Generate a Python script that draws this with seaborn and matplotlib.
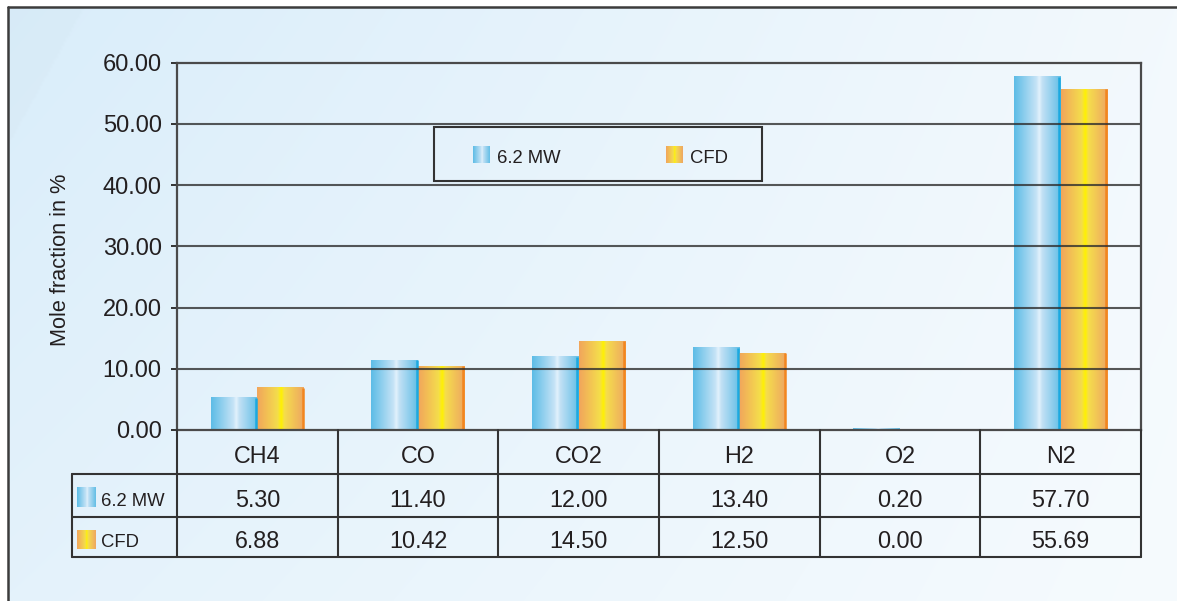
import numpy as np
import pandas as pd
import matplotlib
matplotlib.use("Agg")
import matplotlib.pyplot as plt
import seaborn as sns
from matplotlib import font_manager
from matplotlib.colors import LinearSegmentedColormap, to_rgb
from matplotlib.patches import Rectangle

# ---- data -------------------------------------------------------------
gases = ["CH4", "CO", "CO2", "H2", "O2", "N2"]
mw_values = [5.30, 11.40, 12.00, 13.40, 0.20, 57.70]
cfd_values = [6.88, 10.42, 14.50, 12.50, 0.00, 55.69]
series_names = ["6.2 MW", "CFD"]
y_ticks = [0, 10, 20, 30, 40, 50, 60]
y_label = "Mole fraction in %"

# ---- styling ----------------------------------------------------------
W, H = 1177, 601
TEXT = "#231f20"
LINE = "#333333"

sns.set_theme(style="white")
plt.rcParams["font.family"] = ["Liberation Sans", "DejaVu Sans"]

# condensed face for the series names, if one is available
_font_names = {f.name for f in font_manager.fontManager.ttflist}
if "Liberation Sans Narrow" in _font_names:
    NARROW, NARROW_SIZE = ["Liberation Sans Narrow", "Liberation Sans"], 15
else:
    NARROW, NARROW_SIZE = ["Liberation Sans", "DejaVu Sans"], 13.3

blue_cmap = LinearSegmentedColormap.from_list(
    "blue_bar", [(0.0, "#5cbce6"), (0.48, "#c6e3f6"), (0.54, "#e2f2fc"),
                 (0.60, "#c3e1f5"), (1.0, "#62bee6")])
orange_cmap = LinearSegmentedColormap.from_list(
    "orange_bar", [(0.0, "#f1a55c"), (0.44, "#f4dd4c"), (0.52, "#fff200"),
                   (0.58, "#f5de4c"), (1.0, "#eea662")])
series_style = {
    "6.2 MW": dict(base="#7fc8ea", cmap=blue_cmap, edge="#1ba9e0"),
    "CFD": dict(base="#f3c05a", cmap=orange_cmap, edge="#f2861f"),
}


def gradient(cmap):
    return cmap(np.linspace(0, 1, 256))[None, :, :3]


fig = plt.figure(figsize=(W / 100, H / 100), dpi=100)
fig.patch.set_facecolor("white")

# ---- page background with frame --------------------------------------
bg = fig.add_axes([0, 0, 1, 1], zorder=-10)
bg.set_axis_off()
yy, xx = np.mgrid[0:H:2, 0:W:2].astype(float)
u, v = xx / W, yy / H
tl, tr, bl, br = [np.array(to_rgb(c)) for c in ("#d9edfa", "#f3f9fd", "#e4f2fb", "#f6fbfe")]
page = (((1 - u) * (1 - v))[..., None] * tl + (u * (1 - v))[..., None] * tr
        + ((1 - u) * v)[..., None] * bl + (u * v)[..., None] * br)
corner = xx < 83 - 0.55 * (yy - 7)
page[corner] = page[corner] * 0.99
bg.imshow(page, extent=[0, W, H, 0], aspect="auto", interpolation="bilinear")
bg.add_patch(Rectangle((0, 0), W, 7, facecolor="white", edgecolor="none"))
bg.add_patch(Rectangle((0, 0), 8, H, facecolor="white", edgecolor="none"))
bg.plot([8, 8], [7, H], color="#3c3c3c", lw=1.8)
bg.plot([8, W], [7, 7], color="#3c3c3c", lw=1.8)
bg.set_xlim(0, W)
bg.set_ylim(H, 0)

# ---- bar chart --------------------------------------------------------
ax_left, ax_right, ax_top, ax_bottom = 177, 1141, 62.7, 430
ax = fig.add_axes([ax_left / W, 1 - ax_bottom / H, (ax_right - ax_left) / W,
                   (ax_bottom - ax_top) / H])
ax.patch.set_alpha(0)

df = pd.DataFrame({
    "gas": gases * 2,
    "series": [series_names[0]] * len(gases) + [series_names[1]] * len(gases),
    "value": mw_values + cfd_values,
})
palette = {s: series_style[s]["base"] for s in series_names}
sns.barplot(data=df, x="gas", y="value", hue="series", order=gases,
            hue_order=series_names, palette=palette, width=0.58, gap=0,
            saturation=1, errorbar=None, legend=False, edgecolor="none", ax=ax)

px_per_unit = (ax_right - ax_left) / len(gases)
for p in list(ax.patches):
    fc = p.get_facecolor()[:3]
    name = min(series_names, key=lambda s: np.sum((np.array(to_rgb(palette[s])) - fc) ** 2))
    st = series_style[name]
    x0, w, h = p.get_x(), p.get_width(), p.get_height()
    p.set_alpha(0)
    if h <= 0:
        continue
    ax.imshow(gradient(st["cmap"]), extent=[x0, x0 + w, 0, h], aspect="auto",
              interpolation="bilinear", zorder=2)
    edge_x = x0 + w - 1.2 / px_per_unit
    ax.plot([edge_x, edge_x], [0, h], color=st["edge"], lw=1.8, zorder=2.1,
            solid_capstyle="butt")

ax.set_xlim(-0.5, len(gases) - 0.5)
ax.set_ylim(y_ticks[0], y_ticks[-1])
ax.set_xticks([])
ax.set_xlabel("")
ax.set_ylabel("")
ax.set_yticks(y_ticks)
ax.set_yticklabels([f"{t:.2f}" for t in y_ticks], fontsize=17, color=TEXT)
ax.tick_params(axis="y", which="major", left=True, length=4, width=1.4,
               color=LINE, pad=7)
for t in y_ticks[1:-1]:
    ax.axhline(t, color="#2e2e2e", lw=1.5, alpha=0.8, zorder=3)
for s in ax.spines.values():
    s.set_visible(True)
    s.set_color("#4a4a4a")
    s.set_linewidth(1.6)
    s.set_zorder(3)

fig.text(60 / W, 1 - 260 / H, y_label, rotation=90, ha="center", va="center",
         fontsize=15.7, color=TEXT)

# ---- overlay: legend and data table (pixel coordinates) ---------------
ov = fig.add_axes([0, 0, 1, 1], zorder=5)
ov.set_axis_off()
ov.patch.set_alpha(0)
ov.set_xlim(0, W)
ov.set_ylim(H, 0)


def data_x_to_px(xd):
    return ax.transData.transform((xd, 0))[0]


def swatch(x0, y0, x1, y1, cmap):
    ov.imshow(gradient(cmap), extent=[x0, x1, y1, y0], aspect="auto",
              interpolation="bilinear", zorder=6)


# legend box
ov.add_patch(Rectangle((434, 127), 328, 54, facecolor="none", edgecolor=LINE,
                       lw=1.5, zorder=6))
legend_pos = [(473, 497), (666, 690)]
for name, (sx, tx) in zip(series_names, legend_pos):
    swatch(sx, 146, sx + 17, 163, series_style[name]["cmap"])
    ov.text(tx, 163.3, name, ha="left", va="baseline", fontsize=NARROW_SIZE,
            family=NARROW, color=TEXT, zorder=7)

# table grid
row_y = [430, 474, 517, 557]
label_left = 72
col_edges = [data_x_to_px(i - 0.5) for i in range(len(gases) + 1)]
for y in row_y[1:]:
    ov.plot([label_left, col_edges[-1]], [y, y], color=LINE, lw=1.5, zorder=6)
for xe in col_edges:
    ov.plot([xe, xe], [row_y[0], row_y[-1]], color=LINE, lw=1.5, zorder=6)
ov.plot([label_left, label_left], [row_y[1], row_y[-1]], color=LINE, lw=1.5, zorder=6)

centers = [data_x_to_px(i) for i in range(len(gases))]
for cx, g in zip(centers, gases):
    ov.text(cx, 462.7, g, ha="center", va="baseline", fontsize=16.8,
            color=TEXT, zorder=7)
row_values = [mw_values, cfd_values]
row_baselines = [506.7, 547.7]
row_swatch = [(487, 507), (530, 549)]
for name, vals, base, (sy0, sy1) in zip(series_names, row_values,
                                        row_baselines, row_swatch):
    swatch(77, sy0, 96, sy1, series_style[name]["cmap"])
    ov.text(101, base - 0.7, name, ha="left", va="baseline", fontsize=NARROW_SIZE,
            family=NARROW, color=TEXT, zorder=7)
    for cx, val in zip(centers, vals):
        ov.text(cx, base, f"{val:.2f}", ha="center", va="baseline",
                fontsize=16.8, color=TEXT, zorder=7)

fig.savefig("out.png", dpi=100)
